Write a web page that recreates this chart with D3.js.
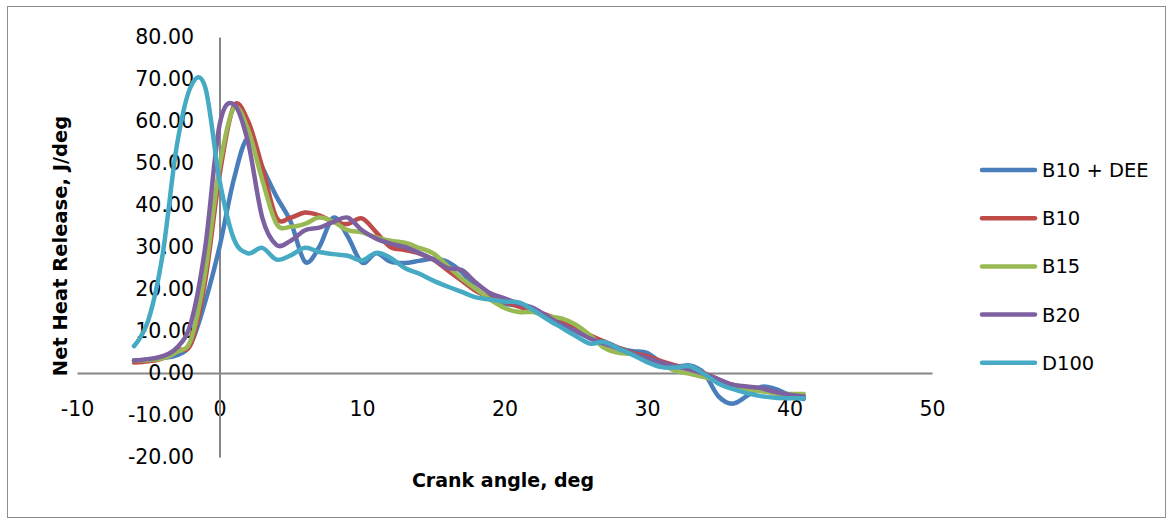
<!DOCTYPE html>
<html><head><meta charset="utf-8">
<script src="https://cdn.jsdelivr.net/npm/d3@7"></script>
<style>body{margin:0;background:#fff}svg{display:block}</style>
</head><body>
<svg id="c" width="1169" height="521"></svg>
<script>
const angles = d3.range(-6, 42);
const seriesNames = ["B10 + DEE", "B10", "B15", "B20", "D100"];
const seriesColors = ["#4A7EBB", "#BE4B48", "#98B954", "#7D60A0", "#46AAC5"];
const b10dee = [3,3.2,3.6,4.2,7,17,30,46,56,49,42,36,26.5,30,37,32.5,26.3,28.5,26.5,26.2,26.7,27.2,26.5,24,20,17.5,16.5,16,15,13,11.5,10,8.5,7.5,6,5.2,4.8,2.5,1.5,1.8,0,-5.5,-7.3,-5.5,-3.3,-3.8,-5.2,-6.2];
const b10 = [2.5,2.8,3.5,5.5,7,22,47,63.5,60,49,37,37,38.2,37.5,36,35.5,36.8,33.5,30,29.3,28.5,27,24.5,22,19.5,18,17,15.8,14.8,13.8,12.5,10.8,9,7.5,6,4.8,4,2.8,1.8,1,0,-1.5,-2.8,-3.5,-4.2,-4.8,-5.2,-5.6];
const b15 = [3,3.1,3.5,5,8,24,49,63,58,46,35.5,34.8,35.5,37,36,34,33.5,32.3,31.5,31,29.8,28.5,25.5,22.5,20,17.5,15.5,14.5,14.5,13.5,13,11.5,9,6,4.8,4.5,3,2,0.5,-0.2,-1,-2,-3,-3.8,-4.3,-4.8,-5,-5];
const b20 = [3,3.3,4,6,12,30,59,64,55,37,30.5,31.5,34,34.6,36,37,34,32,30.8,30,28.6,27,25,24.5,21.5,19,17.8,16.5,15.5,13.5,11.5,10,8.2,7,5.8,4.5,3.5,2.5,1.6,0.8,-0.2,-1.5,-2.8,-3.2,-3.6,-4.5,-5.2,-5.6];
const d100 = [6.4,12.5,28,54,68.3,68,46,32,28.5,29.8,27,28,29.8,28.8,28.3,27.9,26.8,28.6,27.4,25,23.7,22,20.6,19.3,18,17.5,17,16.8,15,12.8,10.8,8.8,7,7.4,5.8,4.3,2.6,1.4,1.3,1.6,-0.2,-2.5,-3.8,-4.8,-5.5,-5.9,-6,-6];
const seriesValues = [b10dee, b10, b15, b20, d100];
const xTicks = [-10, 0, 10, 20, 30, 40, 50];
const yTicks = [-20, -10, 0, 10, 20, 30, 40, 50, 60, 70, 80];

const svg = d3.select("#c");
const FONT = "'DejaVu Sans', sans-serif";
svg.append("rect").attr("x",7.5).attr("y",6.5).attr("width",1158).attr("height",511)
  .attr("fill","#fff").attr("stroke","#8c8c8c").attr("stroke-width",1);

const x = d3.scaleLinear().domain([-10, 50]).range([77, 932]);
const y = d3.scaleLinear().domain([-20, 80]).range([457, 37]);

const gx = svg.append("g").attr("transform", `translate(0,${y(0)})`)
  .call(d3.axisBottom(x).tickValues(xTicks).tickSize(0).tickPadding(28).tickFormat(d => String(d)));
gx.select(".domain").attr("stroke","#868686").attr("stroke-width",2);
gx.selectAll("text").attr("font-family",FONT).attr("font-size",20.5).attr("fill","#000");

const gy = svg.append("g").attr("transform", `translate(${x(0)},0)`)
  .call(d3.axisLeft(y).tickValues(yTicks).tickSize(0).tickPadding(0).tickFormat(d => d.toFixed(2)));
gy.select(".domain").attr("stroke","#868686").attr("stroke-width",2);
gy.selectAll("text").attr("font-family",FONT).attr("font-size",20.5).attr("fill","#000")
  .attr("x", 194 - x(0));

const line = d3.line().x((d,i)=>x(angles[i])).y(d=>y(d)).curve(d3.curveCatmullRom.alpha(0));
svg.append("g").selectAll("path").data(seriesValues).join("path")
  .attr("d", d=>line(d)).attr("fill","none")
  .attr("stroke",(d,i)=>seriesColors[i]).attr("stroke-width",4.5)
  .attr("stroke-linecap","round").attr("stroke-linejoin","round");

svg.append("text").attr("x",503).attr("y",487).attr("text-anchor","middle")
  .attr("font-family",FONT).attr("font-weight","bold").attr("font-size",19).text("Crank angle, deg");
svg.append("text").attr("transform","translate(67,246) rotate(-90)").attr("text-anchor","middle")
  .attr("font-family",FONT).attr("font-weight","bold").attr("font-size",19.5).text("Net Heat Release, J/deg");

const lg = svg.append("g").selectAll("g").data(seriesNames).join("g")
  .attr("transform",(d,i)=>`translate(0,${170 + i*48.2})`);
lg.append("line").attr("x1",982).attr("x2",1035).attr("y1",0).attr("y2",0)
  .attr("stroke",(d,i)=>seriesColors[i]).attr("stroke-width",4.5).attr("stroke-linecap","round");
lg.append("text").attr("x",1042).attr("y",0).attr("dy","0.36em")
  .attr("font-family",FONT).attr("font-size",19.5).text(d=>d);
</script>
</body></html>
